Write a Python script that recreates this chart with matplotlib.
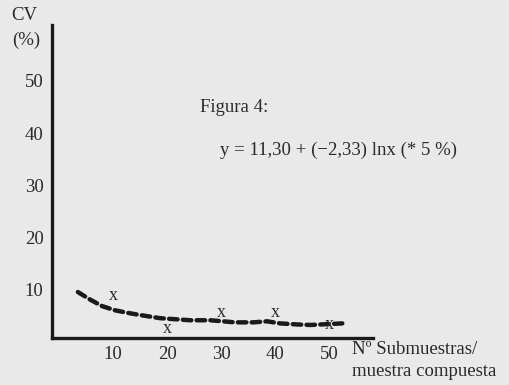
import matplotlib.pyplot as plt

# curve (hand-drawn fit)
curve_x = [3.5, 5.7, 8.0, 10.4, 12.8, 15.0, 18.7, 24.3, 28.0, 32.6, 35.9, 38.5, 40.9, 44.0, 46.5, 52.4]
curve_y = [9.6, 8.2, 6.9, 6.1, 5.6, 5.2, 4.6, 4.2, 4.2, 3.8, 3.8, 4.0, 3.6, 3.4, 3.3, 3.6]

# observed points (marked with "x")
obs_x = [10, 20, 30, 40, 50]
obs_y = [9.0, 2.7, 5.7, 5.7, 3.4]

xticks = [10, 20, 30, 40, 50]
yticks = [10, 20, 30, 40, 50]

bg = '#e9e9e9'
ink = '#1a1a1a'
txt = '#2a2a2a'
fs = 13.5
plt.rcParams['font.family'] = ['Liberation Serif', 'DejaVu Serif']

fig = plt.figure(figsize=(5.09, 3.85), dpi=100, facecolor=bg)
ax = fig.add_axes([0.102, 0.122, 0.631, 0.813], facecolor=bg)

ax.plot(curve_x, curve_y, color=ink, lw=3.2, dashes=(1.9, 1.2), dash_capstyle='round')
for x, y in zip(obs_x, obs_y):
    ax.text(x, y, 'x', ha='center', va='center', fontsize=13, color=txt)

ax.set_xlim(-1.3, 58.1)
ax.set_ylim(0.8, 60.7)
ax.set_xticks(xticks)
ax.set_yticks(yticks)
ax.tick_params(length=0, labelsize=fs, colors=txt, pad=6)
for s in ['top', 'right']:
    ax.spines[s].set_visible(False)
for s in ['left', 'bottom']:
    ax.spines[s].set_linewidth(2.4)
    ax.spines[s].set_color(ink)

fig.text(24 / 509, 1 - 15 / 385, 'CV', ha='center', va='center', fontsize=fs, color=txt)
fig.text(26 / 509, 1 - 40 / 385, '(%)', ha='center', va='center', fontsize=fs, color=txt)
fig.text(200 / 509, 1 - 107 / 385, 'Figura 4:', ha='left', va='center', fontsize=fs, color=txt)
fig.text(220 / 509, 1 - 150 / 385, 'y = 11,30 + (\u22122,33) lnx (* 5 %)', ha='left', va='center',
         fontsize=fs, color=txt)
fig.text(352 / 509, 1 - 350 / 385, 'N\u00ba Submuestras/', ha='left', va='center', fontsize=fs,
         color=txt)
fig.text(352 / 509, 1 - 372 / 385, 'muestra compuesta', ha='left', va='center', fontsize=fs,
         color=txt)

fig.savefig('out.png', dpi=100, facecolor=bg)
